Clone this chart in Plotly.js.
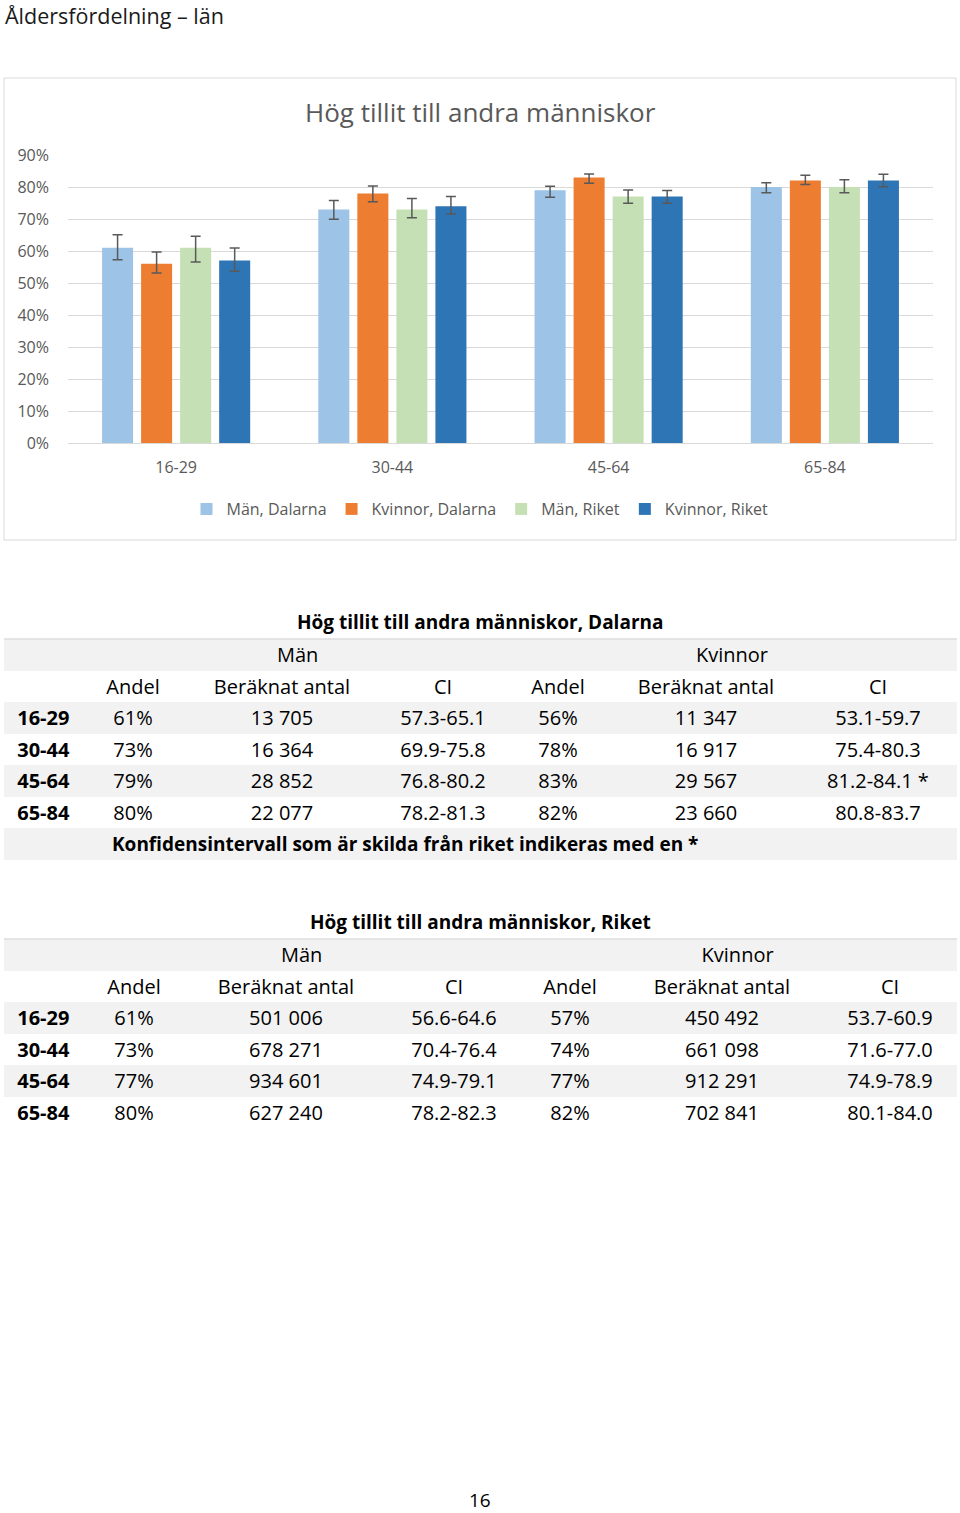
<!DOCTYPE html>
<html><head><meta charset="utf-8">
<script src="https://cdn.plot.ly/plotly-3.0.1.min.js"></script>
<style>html,body{margin:0;padding:0;background:#fff}#chart{width:960px;height:1513px}</style>
</head><body><div id="chart"></div>
<script>
// ---------- data ----------
const ageGroups = ['16-29', '30-44', '45-64', '65-84'];
const seriesNames = ['Män, Dalarna', 'Kvinnor, Dalarna', 'Män, Riket', 'Kvinnor, Riket'];

const manDalarnaAndel = [61, 73, 79, 80];
const manDalarnaAntal = ['13 705', '16 364', '28 852', '22 077'];
const manDalarnaCI = ['57.3-65.1', '69.9-75.8', '76.8-80.2', '78.2-81.3'];

const kvinnorDalarnaAndel = [56, 78, 83, 82];
const kvinnorDalarnaAntal = ['11 347', '16 917', '29 567', '23 660'];
const kvinnorDalarnaCI = ['53.1-59.7', '75.4-80.3', '81.2-84.1 *', '80.8-83.7'];

const manRiketAndel = [61, 73, 77, 80];
const manRiketAntal = ['501 006', '678 271', '934 601', '627 240'];
const manRiketCI = ['56.6-64.6', '70.4-76.4', '74.9-79.1', '78.2-82.3'];

const kvinnorRiketAndel = [57, 74, 77, 82];
const kvinnorRiketAntal = ['450 492', '661 098', '912 291', '702 841'];
const kvinnorRiketCI = ['53.7-60.9', '71.6-77.0', '74.9-78.9', '80.1-84.0'];

const genderHeaders = ['Män', 'Kvinnor'];
const colHeaders = ['Andel', 'Beräknat antal', 'CI'];
const pageTitle = 'Åldersfördelning – län';
const chartTitle = 'Hög tillit till andra människor';
const table1Title = 'Hög tillit till andra människor, Dalarna';
const table2Title = 'Hög tillit till andra människor, Riket';
const footnote = 'Konfidensintervall som är skilda från riket indikeras med en *';
const pageNumber = '16';

// ---------- helpers ----------
const W = 960, H = 1513;
const px = v => v / W;
const py = v => 1 - v / H;
const FONT = 'Open Sans, Noto Sans, sans-serif';
const GREY_TXT = '#595959';
const ROWFILL = '#f2f2f2';
const colors = ['#9dc3e6', '#ed7d31', '#c5e0b4', '#2e75b6'];

function ciBounds(ci) {
  return ci.map(s => { const p = s.split('-'); return [parseFloat(p[0]), parseFloat(p[1])]; });
}
function barTrace(name, vals, ci, color) {
  const b = ciBounds(ci);
  return {
    type: 'bar', name: name, x: ageGroups, y: vals,
    marker: {color: color},
    error_y: {
      type: 'data', symmetric: false,
      array: vals.map((v, i) => b[i][1] - v),
      arrayminus: vals.map((v, i) => v - b[i][0]),
      color: GREY_TXT, thickness: 1.5, width: 5
    },
    hoverinfo: 'skip'
  };
}

const traces = [
  barTrace(seriesNames[0], manDalarnaAndel, manDalarnaCI, colors[0]),
  barTrace(seriesNames[1], kvinnorDalarnaAndel, kvinnorDalarnaCI, colors[1]),
  barTrace(seriesNames[2], manRiketAndel, manRiketCI, colors[2]),
  barTrace(seriesNames[3], kvinnorRiketAndel, kvinnorRiketCI, colors[3])
];

const NB = '\u00a0';
const ROWH = 31.5;
function tableTrace(mAndel, mAntal, mCI, kAndel, kAntal, kCI, withFooter, topY, widths, manShift, kvShift) {
  const pct = a => a.map(v => v + '%');
  const labels = ageGroups.map(g => NB + g);
  const cols = [
    [''].concat(labels),
    [colHeaders[0]].concat(pct(mAndel)),
    [colHeaders[1]].concat(mAntal),
    [colHeaders[2]].concat(mCI),
    [colHeaders[0]].concat(pct(kAndel)),
    [colHeaders[1]].concat(kAntal),
    [colHeaders[2]].concat(kCI)
  ];
  if (withFooter) cols.forEach(c => c.push(''));
  const n = cols[0].length;
  const fills = [];
  for (let r = 0; r < n; r++) fills.push(r % 2 === 0 ? '#ffffff' : ROWFILL);
  const align = ['left', 'center', 'center', 'center', 'center', 'center', 'center'];
  return {
    type: 'table',
    domain: {x: [px(4), px(957)], y: [py(topY + ROWH * (n + 1) + 4), py(topY)]},
    columnwidth: widths,
    header: {
      values: ['', '', NB.repeat(manShift) + genderHeaders[0], '', '', NB.repeat(kvShift) + genderHeaders[1], ''],
      height: ROWH,
      align: align,
      fill: {color: ROWFILL},
      line: {color: 'rgba(0,0,0,0)', width: 0},
      font: {family: FONT, size: 20, color: '#000'}
    },
    cells: {
      values: cols,
      height: ROWH,
      align: align,
      fill: {color: [fills]},
      line: {color: 'rgba(0,0,0,0)', width: 0},
      font: {family: FONT, size: 20, color: '#000', weight: ['bold', 'normal']}
    }
  };
}

traces.push(tableTrace(manDalarnaAndel, manDalarnaAntal, manDalarnaCI,
  kvinnorDalarnaAndel, kvinnorDalarnaAntal, kvinnorDalarnaCI, true, 639,
  [81, 96, 202, 120, 110, 186, 158], 6, 10));
traces.push(tableTrace(manRiketAndel, manRiketAntal, manRiketCI,
  kvinnorRiketAndel, kvinnorRiketAntal, kvinnorRiketCI, false, 939,
  [81, 98, 206, 130, 102, 202, 134], 6, 6));

const layout = {
  width: W, height: H,
  margin: {l: 0, r: 0, t: 0, b: 0},
  paper_bgcolor: '#fff', plot_bgcolor: '#fff',
  font: {family: FONT, color: GREY_TXT},
  showlegend: true,
  barmode: 'group', bargap: 0.278, bargroupgap: 0.205,
  xaxis: {
    domain: [px(68), px(933)], type: 'category',
    showgrid: false, showline: false, zeroline: false, ticks: '',
    tickfont: {family: FONT, size: 16, color: GREY_TXT},
    ticklabelstandoff: 13, fixedrange: true
  },
  yaxis: {
    domain: [py(443), py(155)], range: [0, 90], dtick: 10, ticksuffix: '%',
    showgrid: true, gridcolor: '#d9d9d9', gridwidth: 1,
    zeroline: true, zerolinecolor: '#d9d9d9', zerolinewidth: 1,
    showline: false, ticks: '',
    tickfont: {family: FONT, size: 16, color: GREY_TXT},
    ticklabelstandoff: 18, fixedrange: true
  },
  legend: {
    orientation: 'h', x: 0.5, xanchor: 'center', y: py(509), yanchor: 'middle',
    font: {family: FONT, size: 16, color: GREY_TXT}, bgcolor: 'rgba(0,0,0,0)'
  },
  shapes: [
    {type: 'rect', xref: 'paper', yref: 'paper', x0: px(4), x1: px(956), y0: py(540), y1: py(78),
     line: {color: '#d9d9d9', width: 1}, fillcolor: 'rgba(0,0,0,0)', layer: 'below'},
    {type: 'line', xref: 'paper', yref: 'paper', x0: px(4), x1: px(957), y0: py(639), y1: py(639),
     line: {color: '#dcdcdc', width: 1.5}},
    {type: 'line', xref: 'paper', yref: 'paper', x0: px(4), x1: px(957), y0: py(939), y1: py(939),
     line: {color: '#dcdcdc', width: 1.5}}
  ],
  annotations: [
    {text: pageTitle, xref: 'paper', yref: 'paper', x: px(3), y: py(16), xanchor: 'left', yanchor: 'middle',
     showarrow: false, font: {family: FONT, size: 21.5, color: '#1a1a1a'}},
    {text: chartTitle, xref: 'paper', yref: 'paper', x: 0.5, y: py(112), xanchor: 'center', yanchor: 'middle',
     showarrow: false, font: {family: FONT, size: 26, color: GREY_TXT}},
    {text: '<b>' + table1Title + '</b>', xref: 'paper', yref: 'paper', x: 0.5, y: py(622), xanchor: 'center', yanchor: 'middle',
     showarrow: false, font: {family: FONT, size: 19, color: '#000'}},
    {text: '<b>' + footnote + '</b>', xref: 'paper', yref: 'paper', x: px(110), y: py(844), xanchor: 'left', yanchor: 'middle',
     showarrow: false, font: {family: FONT, size: 19, color: '#000'}},
    {text: '<b>' + table2Title + '</b>', xref: 'paper', yref: 'paper', x: 0.5, y: py(922), xanchor: 'center', yanchor: 'middle',
     showarrow: false, font: {family: FONT, size: 19, color: '#000'}},
    {text: pageNumber, xref: 'paper', yref: 'paper', x: 0.5, y: py(1500), xanchor: 'center', yanchor: 'middle',
     showarrow: false, borderpad: 0, font: {family: FONT, size: 19, color: '#000'}}
  ]
};

Plotly.newPlot('chart', traces, layout, {displayModeBar: false, staticPlot: true});
</script>
</body></html>
